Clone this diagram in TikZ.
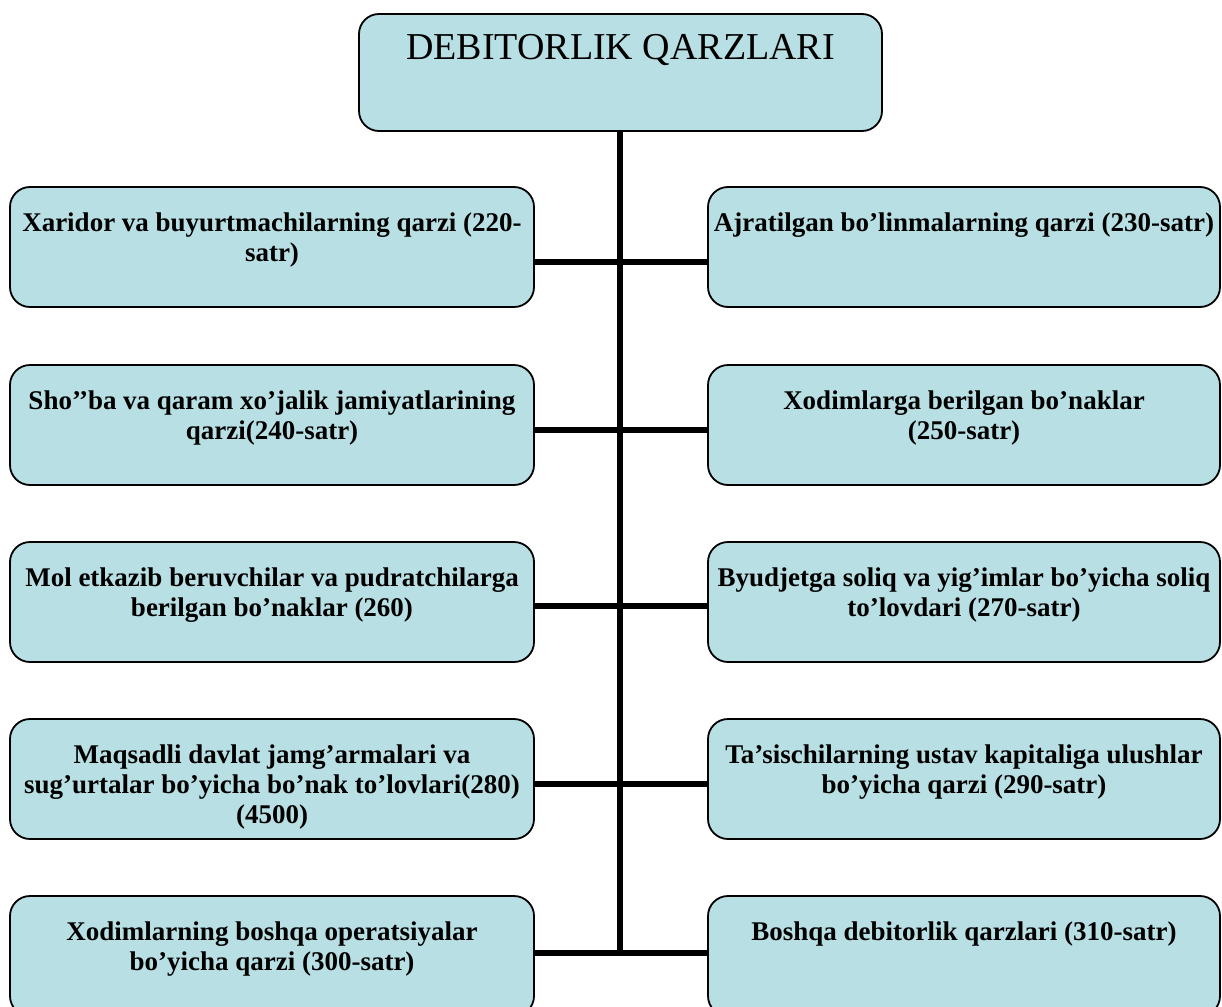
\documentclass[tikz,border=0pt]{standalone}
\usepackage{fontspec}
\setmainfont{Liberation Serif}
\definecolor{boxfill}{HTML}{B8DFE3}
\tikzset{
  box/.style={draw=black, line width=1.8pt, fill=boxfill, rounded corners=20pt,
    inner sep=0pt, outer sep=0pt},
  conn/.style={draw=black, line width=5.5pt},
}
\newcommand{\lbox}[1]{\parbox[t][120pt][t]{524pt}{\centering\fontsize{27}{30}\selectfont\bfseries\vspace*{23pt}\strut#1\par}}
\newcommand{\rbox}[1]{\parbox[t][120pt][t]{512pt}{\centering\fontsize{27}{30}\selectfont\bfseries\vspace*{23pt}\strut#1\par}}
\begin{document}
\begin{tikzpicture}[x=1pt,y=-1pt]
\useasboundingbox (0,0) rectangle (1222,1006);
\clip (0,0) rectangle (1222,1006);
\node[box, minimum width=523pt, minimum height=117pt, anchor=north] (top) at (620.5,14)
  {\parbox[t][117pt][t]{523pt}{\centering\fontsize{38}{47}\selectfont\vspace*{13pt}\strut DEBITORLIK QARZLARI\par}};
% left boxes
\node[box, anchor=north] (L1) at (272,187) {\lbox{Xaridor va buyurtmachilarning qarzi (220-\\satr)}};
\node[box, anchor=north] (L2) at (272,365) {\lbox{Sho’’ba va qaram xo’jalik jamiyatlarining\\qarzi(240-satr)}};
\node[box, anchor=north] (L3) at (272,542) {\lbox{Mol etkazib beruvchilar va pudratchilarga\\berilgan bo’naklar (260)}};
\node[box, anchor=north] (L4) at (272,719) {\lbox{Maqsadli davlat jamg’armalari va\\sug’urtalar bo’yicha bo’nak to’lovlari(280)\\(4500)}};
\node[box, anchor=north] (L5) at (272,896) {\lbox{Xodimlarning boshqa operatsiyalar\\bo’yicha qarzi (300-satr)}};
% right boxes
\node[box, anchor=north] (R1) at (964,187) {\rbox{Ajratilgan bo’linmalarning qarzi (230-satr)}};
\node[box, anchor=north] (R2) at (964,365) {\rbox{Xodimlarga berilgan bo’naklar\\(250-satr)}};
\node[box, anchor=north] (R3) at (964,542) {\rbox{Byudjetga soliq va yig’imlar bo’yicha soliq\\to’lovdari (270-satr)}};
\node[box, anchor=north] (R4) at (964,719) {\rbox{Ta’sischilarning ustav kapitaliga ulushlar\\bo’yicha qarzi (290-satr)}};
\node[box, anchor=north] (R5) at (964,896) {\rbox{Boshqa debitorlik qarzlari (310-satr)}};
% junctions on the trunk
\coordinate (j1) at (620,262);
\coordinate (j2) at (620,430);
\coordinate (j3) at (620,606);
\coordinate (j4) at (620,784);
\coordinate (j5) at (620,953);
\draw[conn] (top.south -| j1) -- ([yshift=-2.75pt]j5);
\draw[conn] (L1.east |- j1) -- (R1.west |- j1);
\draw[conn] (L2.east |- j2) -- (R2.west |- j2);
\draw[conn] (L3.east |- j3) -- (R3.west |- j3);
\draw[conn] (L4.east |- j4) -- (R4.west |- j4);
\draw[conn] (L5.east |- j5) -- (R5.west |- j5);
\end{tikzpicture}
\end{document}
